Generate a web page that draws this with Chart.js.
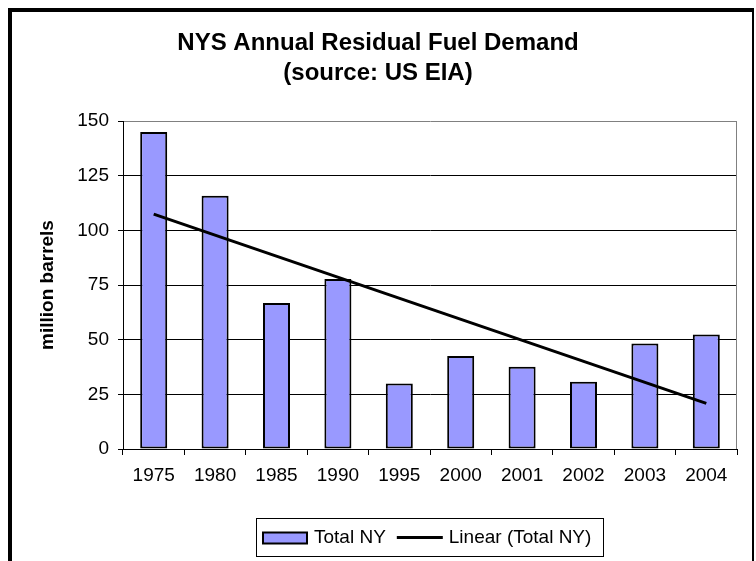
<!DOCTYPE html>
<html>
<head>
<meta charset="utf-8">
<script src="https://cdn.jsdelivr.net/npm/chart.js@4.4.1/dist/chart.umd.min.js"></script>
<style>
  html, body { margin: 0; padding: 0; background: #ffffff; }
  #wrap { width: 756px; height: 561px; position: relative; }
  canvas { display: block; }
</style>
</head>
<body>
<div id="wrap"><canvas id="c" width="756" height="561"></canvas></div>
<script>
// ---- Data ----
const titleLines = ['NYS Annual Residual Fuel Demand', '(source: US EIA)'];
const yAxisTitle = 'million barrels';
const years = ['1975', '1980', '1985', '1990', '1995', '2000', '2001', '2002', '2003', '2004'];
const totalNY = [145.0, 115.8, 66.8, 77.7, 30.0, 42.5, 37.6, 30.8, 48.3, 52.4];
const trendEnds = [107.4, 20.9];          // linear trendline value at first and last category
const yTicks = [0, 25, 50, 75, 100, 125, 150];
const seriesNames = ['Total NY', 'Linear (Total NY)'];

const FONT = '"Liberation Sans", Arial, Helvetica, sans-serif';

// trendline: only the two end values, joined straight by spanGaps
const trendData = years.map((_, i) => i === 0 ? trendEnds[0] : (i === years.length - 1 ? trendEnds[1] : null));

const framePlugin = {
  id: 'frame',
  beforeDraw(chart) {
    const ctx = chart.ctx;
    ctx.save();
    ctx.fillStyle = '#ffffff';
    ctx.fillRect(0, 0, chart.width, chart.height);
    ctx.restore();
  },
  afterDraw(chart) {
    const ctx = chart.ctx;
    ctx.save();
    ctx.fillStyle = '#000000';
    ctx.fillRect(8, 8, 4, chart.height - 8);
    ctx.fillRect(8, 8, 746, 4);
    ctx.fillRect(752, 8, 2, chart.height - 8);
    ctx.restore();
  }
};

const plotBorderPlugin = {
  id: 'plotBorder',
  beforeDatasetsDraw(chart) {
    const ctx = chart.ctx, ca = chart.chartArea;
    ctx.save();
    ctx.strokeStyle = '#808080';
    ctx.lineWidth = 1;
    ctx.beginPath();
    const xr = Math.round(ca.right) - 0.5;
    ctx.moveTo(xr, Math.round(ca.top));
    ctx.lineTo(xr, Math.round(ca.bottom));
    ctx.stroke();
    ctx.restore();
  }
};

const legendBoxPlugin = {
  id: 'legendBox',
  afterDraw(chart) {
    const ctx = chart.ctx, ca = chart.chartArea;
    const ds = chart.data.datasets;
    ctx.save();
    ctx.font = '19px ' + FONT;
    const w1 = ctx.measureText(ds[0].label).width;
    const w2 = ctx.measureText(ds[1].label).width;
    const padL = 7, sw = 44, gap = 7, between = 11, lw = 46, gap2 = 6, padR = 12;
    const boxW = padL + sw + gap + w1 + between + lw + gap2 + w2 + padR;
    const cx = (ca.left + ca.right) / 2;
    const bx = Math.round(cx - boxW / 2), by = 518, bh = 38;
    ctx.strokeStyle = '#000'; ctx.lineWidth = 1;
    ctx.strokeRect(bx + 0.5, by + 0.5, Math.round(boxW), bh);
    const cy = by + bh / 2 + 0.5;
    let x = bx + padL;
    // bar swatch
    ctx.fillStyle = ds[0].backgroundColor;
    ctx.fillRect(x, cy - 5, sw, 11);
    ctx.lineWidth = 2; ctx.strokeStyle = '#000';
    ctx.strokeRect(x, cy - 5, sw, 11);
    x += sw + gap;
    ctx.fillStyle = '#000'; ctx.textBaseline = 'middle'; ctx.textAlign = 'left';
    ctx.fillText(ds[0].label, x, cy);
    x += w1 + between;
    // line swatch
    ctx.lineWidth = 3; ctx.strokeStyle = '#000';
    ctx.beginPath(); ctx.moveTo(x, cy); ctx.lineTo(x + lw, cy); ctx.stroke();
    x += lw + gap2;
    ctx.fillText(ds[1].label, x, cy);
    ctx.restore();
  }
};

new Chart(document.getElementById('c'), {
  data: {
    labels: years,
    datasets: [
      {
        type: 'bar',
        label: seriesNames[0],
        data: totalNY,
        backgroundColor: '#9999FF',
        borderColor: '#000000',
        borderWidth: 2,
        borderSkipped: false,
        barPercentage: 0.44,
        categoryPercentage: 1.0,
        order: 1
      },
      {
        type: 'line',
        label: seriesNames[1],
        data: trendData,
        spanGaps: true,
        borderColor: '#000000',
        borderWidth: 3,
        pointRadius: 0,
        tension: 0,
        fill: false,
        order: 0
      }
    ]
  },
  options: {
    responsive: false,
    animation: false,
    devicePixelRatio: 1,
    layout: { padding: { left: 19, right: 19, top: 0, bottom: 72 } },
    plugins: {
      legend: { display: false },
      tooltip: { enabled: false },
      title: {
        display: true,
        text: titleLines,
        color: '#000000',
        font: { family: FONT, size: 24, weight: 'bold', lineHeight: 1.25 },
        padding: { top: 28, bottom: 33 }
      }
    },
    scales: {
      x: {
        offset: true,
        grid: { display: true, drawOnChartArea: false, drawTicks: true, tickLength: 6, color: '#000000', offset: true },
        border: { color: '#000000', width: 1 },
        ticks: { color: '#000000', font: { family: FONT, size: 19 }, padding: 9, maxRotation: 0, autoSkip: false },
        afterFit(scale) { scale.height = 40; }
      },
      y: {
        min: 0,
        max: 150,
        afterBuildTicks(scale) { scale.ticks = yTicks.map(v => ({ value: v })); },
        grid: {
          color: (c) => (c.tick && c.tick.value === 150) ? '#808080' : '#000000',
          tickColor: '#000000',
          tickLength: 5,
          lineWidth: 1
        },
        border: { color: '#000000', width: 1 },
        ticks: { color: '#000000', font: { family: FONT, size: 19 }, padding: 9 },
        title: {
          display: true,
          text: yAxisTitle,
          color: '#000000',
          font: { family: FONT, size: 19, weight: 'bold' },
          padding: { top: 17, bottom: 0 }
        },
        afterFit(scale) { scale.width = 104; }
      }
    }
  },
  plugins: [framePlugin, plotBorderPlugin, legendBoxPlugin]
});
</script>
</body>
</html>
